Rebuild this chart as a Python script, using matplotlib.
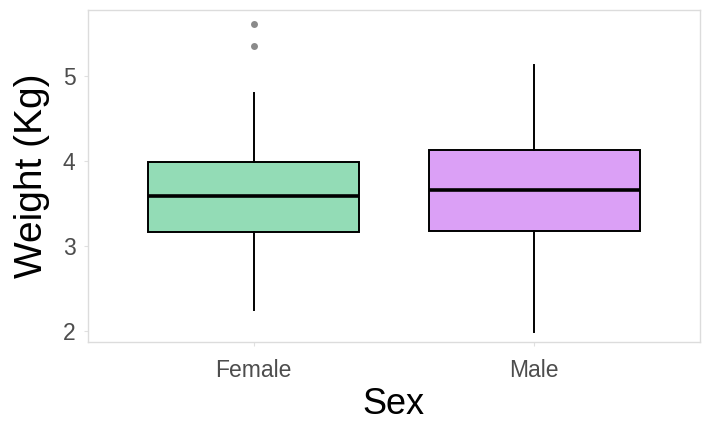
import matplotlib
matplotlib.use("Agg")
import matplotlib.pyplot as plt

# box statistics
groups = ["Female", "Male"]
whisker_low = [2.25, 1.99]
q1 = [3.16, 3.18]
median = [3.58, 3.66]
q3 = [3.98, 4.13]
whisker_high = [4.80, 5.12]
outliers = [[5.35, 5.60], []]
fills = ["#93dcb6", "#dba0f6"]

plt.rcParams["font.family"] = ["Liberation Sans", "DejaVu Sans"]

fig = plt.figure(figsize=(7.02, 4.26), dpi=100)
ax = fig.add_axes([0.1254, 0.197, 0.8716, 0.7795])

stats = []
for i in range(len(groups)):
    stats.append({"whislo": whisker_low[i], "q1": q1[i], "med": median[i],
                  "q3": q3[i], "whishi": whisker_high[i], "fliers": outliers[i],
                  "label": groups[i]})

bp = ax.bxp(stats, positions=range(len(groups)), widths=0.75, patch_artist=True,
            showcaps=False,
            boxprops=dict(edgecolor="black", linewidth=1.4),
            medianprops=dict(color="black", linewidth=2.6),
            whiskerprops=dict(color="black", linewidth=1.4),
            flierprops=dict(marker="o", markerfacecolor="#8a8a8a", markeredgecolor="none",
                            markersize=5))
for patch, c in zip(bp["boxes"], fills):
    patch.set_facecolor(c)

ax.set_xlim(-0.59, 1.59)
ax.set_ylim(1.87, 5.77)
ax.set_yticks([2, 3, 4, 5])

for s in ax.spines.values():
    s.set_color("#dcdcdc")
    s.set_linewidth(1.0)
ax.tick_params(colors="#e0e0e0", labelcolor="#4d4d4d", labelsize=16.5, length=3, width=0.8)
ax.tick_params(axis="x", pad=9)
ax.tick_params(axis="y", pad=6)

ax.set_xlabel("Sex", fontsize=26, labelpad=4)
ax.set_ylabel("Weight (Kg)", fontsize=28, labelpad=9)

fig.savefig("out.png", dpi=100)
